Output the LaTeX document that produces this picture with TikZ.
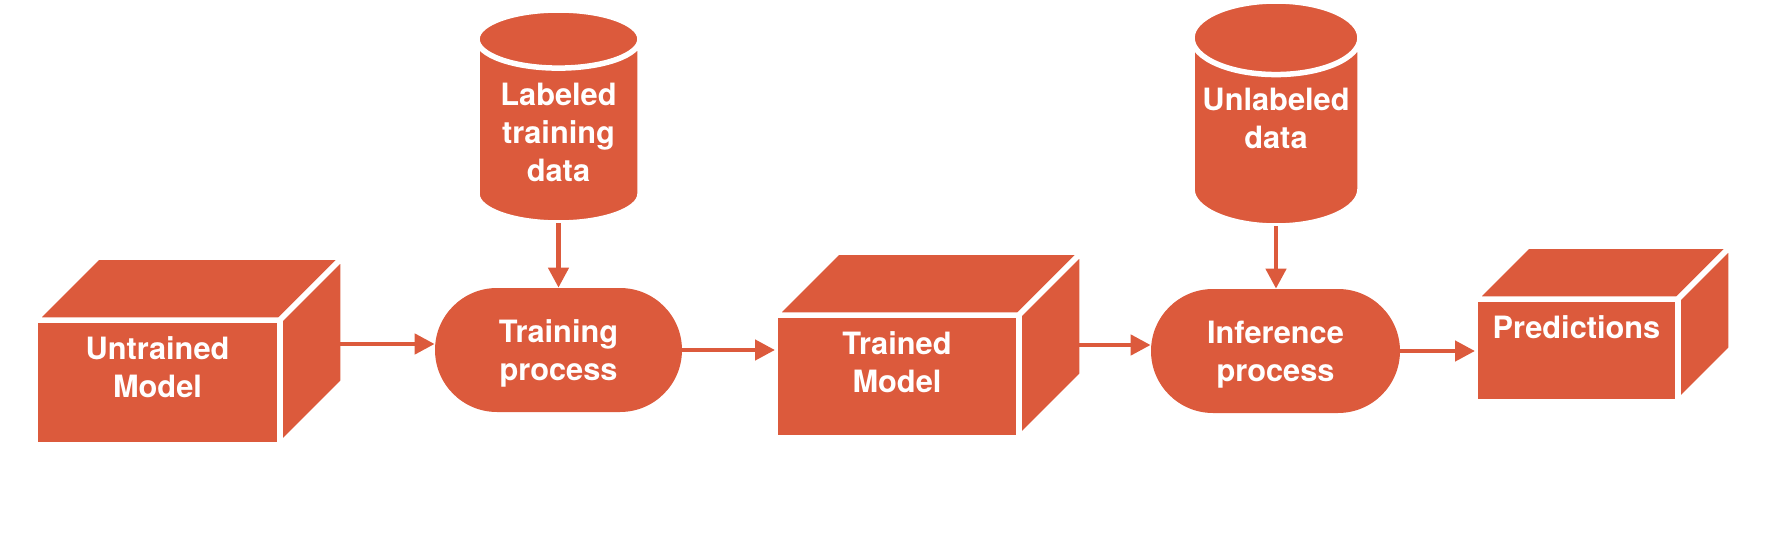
\documentclass[tikz,border=0pt]{standalone}
\usepackage{fontspec}
\setmainfont{TeX Gyre Heros}
\usepackage{tikz}
\usetikzlibrary{positioning, shapes.geometric, arrows.meta, calc}
\definecolor{mlBrick}{HTML}{DC5A3C}
\tikzset{
  face/.style={
    fill=mlBrick, draw=white, line width=0.11cm, line join=miter
  },
  boxfront/.style={
    rectangle, face,
    inner sep=0pt, outer sep=0pt
  },
  boxtext/.style={
    text=white, align=center, inner sep=0pt,
    font=\fontsize{17.5}{21.5}\selectfont\bfseries
  },
  process/.style={
    rectangle, rounded corners=1.24cm,
    fill=mlBrick, inner sep=0pt, text depth=0pt,
    minimum width=4.94cm, minimum height=2.48cm,
    text=white, align=center,
    font=\fontsize{17.5}{21.5}\selectfont\bfseries
  },
  datastore/.style={
    cylinder, shape border rotate=90, aspect=0.5,
    fill=mlBrick, draw=white, line width=0.11cm,
    inner sep=0pt, outer sep=0pt, anchor=south,
    text=white, align=center,
    font=\fontsize{17.5}{21.5}\selectfont\bfseries
  },
  flow/.style={
    -{Triangle[length=0.4cm, width=0.4cm]},
    mlBrick, line width=0.09cm
  }
}
% top and right faces of a box: #1 front node, #2 depth
\newcommand{\boxfaces}[2]{%
  \path[face] (#1.north west) -- ++(#2,#2) -- ($(#1.north east)+(#2,#2)$) -- (#1.north east) -- cycle;
  \path[face] (#1.south east) -- (#1.north east) -- ++(#2,#2) -- ($(#1.south east)+(#2,#2)$) -- cycle;
}

\begin{document}
\begin{tikzpicture}
  \useasboundingbox (0,0) rectangle (35.72,11.16);

  % Untrained model
  \node[boxfront, minimum width=4.9cm, minimum height=2.5cm] (untrained) at (3.15, 3.51) {};
  \boxfaces{untrained}{1.26}
  \node[boxtext, below=0.32cm of untrained.north] (untrained-label) {Untrained\\Model};

  % Training
  \node[datastore, minimum width=3.26cm, minimum height=4.26cm] (labeled) at (11.17, 6.70) {Labeled\\training\\data};
  \node[process] (training) at (11.17, 4.16) {Training\\process};

  % Trained model
  \node[boxfront, minimum width=4.88cm, minimum height=2.46cm] (trained) at (17.94, 3.63) {};
  \boxfaces{trained}{1.26}
  \node[boxtext, below=0.32cm of trained.north] (trained-label) {Trained\\Model};

  % Inference
  \node[datastore, minimum width=3.36cm, minimum height=4.5cm, text depth=0.6cm] (unlabeled) at (25.52, 6.64) {Unlabeled\\data};
  \node[process, minimum width=4.98cm] (inference) at (25.51, 4.14) {Inference\\process};

  % Predictions
  \node[boxfront, minimum width=4.06cm, minimum height=2.06cm] (predictions) at (31.53, 4.15) {};
  \boxfaces{predictions}{1.06}
  \node[boxtext, below=0.32cm of predictions.north] (predictions-label) {Predictions};

  % Arrows
  \coordinate (untrained-out) at ($(untrained.east)+(1.2,0.77)$);
  \coordinate (trained-out) at ($(trained.east)+(1.2,0.63)$);
  \draw[flow] (untrained-out) -- (untrained-out -| training.west);
  \draw[flow] (labeled.south) -- (training.north);
  \draw[flow] (training.east) -- (training.east -| trained.west);
  \draw[flow] (trained-out) -- (trained-out -| inference.west);
  \draw[flow] (unlabeled.south) -- (unlabeled.south |- inference.north);
  \draw[flow] (inference.east) -- (inference.east -| predictions.west);
\end{tikzpicture}
\end{document}
